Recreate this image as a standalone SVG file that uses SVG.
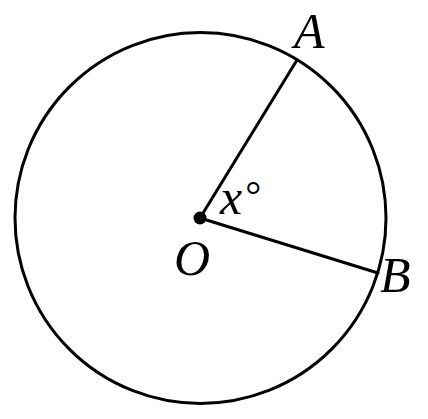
<svg xmlns="http://www.w3.org/2000/svg" width="428" height="419" viewBox="0 0 428 419">
<style>
.ln{stroke:#000;stroke-width:3;fill:none;stroke-linecap:round}
.lb{font-family:"Liberation Serif","Times New Roman",serif;font-style:italic;font-size:50px;fill:#000}
.up{font-style:normal;font-size:40px}
</style>
<rect width="428" height="419" fill="#fff"/>
<g id="circle"><circle class="ln" cx="200.5" cy="218" r="185.5"/></g>
<g id="connectors">
<line class="ln" x1="200" y1="218" x2="297" y2="60"/>
<line class="ln" x1="200" y1="218" x2="378" y2="273"/>
</g>
<g id="node-O"><circle cx="200" cy="218" r="6.5" fill="#000"/><text class="lb" x="174" y="275">O</text></g>
<g id="node-A"><text class="lb" x="294" y="48">A</text></g>
<g id="node-B"><text class="lb" x="380" y="292">B</text></g>
<g id="angle"><text class="lb" x="220" y="214">x<tspan class="up" dx="3" dy="-5">°</tspan></text></g>
</svg>
